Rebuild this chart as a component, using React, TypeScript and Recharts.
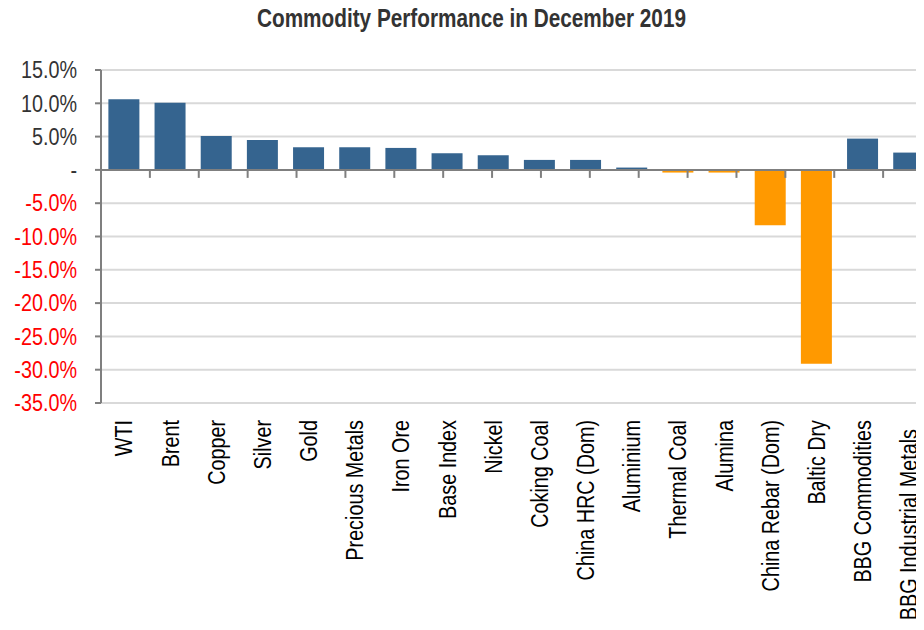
import React from "react";
import {
  BarChart,
  Bar,
  XAxis,
  YAxis,
  CartesianGrid,
  ReferenceLine,
  Cell,
} from "recharts";

const categories = [
  "WTI",
  "Brent",
  "Copper",
  "Silver",
  "Gold",
  "Precious Metals",
  "Iron Ore",
  "Base Index",
  "Nickel",
  "Coking Coal",
  "China HRC (Dom)",
  "Aluminium",
  "Thermal Coal",
  "Alumina",
  "China Rebar (Dom)",
  "Baltic Dry",
  "BBG Commodities",
  "BBG Industrial Metals",
];

// monthly change, %
const changes = [
  10.6, 10.1, 5.1, 4.5, 3.4, 3.4, 3.3, 2.5, 2.2, 1.5, 1.5, 0.35, -0.4, -0.4,
  -8.3, -29.1, 4.7, 2.6,
];

const yTicks = [15, 10, 5, 0, -5, -10, -15, -20, -25, -30, -35];

const UP = "#35648f";
const DOWN = "#ff9900";
const AXIS = "#7f7f7f";
const FONT = "'Liberation Sans', Arial, sans-serif";
// the original uses a narrow face, so squeeze regular glyphs along the text
const NARROW = 0.86;

const data = categories.map((name, i) => ({ name, value: changes[i] }));
// category boundaries, for the small marks under the zero line
const boundaries = categories.slice(1).map((_, i) => i + 1);

function YTick({ x, y, payload }: any) {
  const v = payload.value as number;
  return (
    <g transform={`translate(${x},${y}) scale(${NARROW},1)`}>
      <text
        dy="0.36em"
        textAnchor="end"
        fontSize={23}
        fontFamily={FONT}
        fill={v < 0 ? "#ff0000" : "#333333"}
      >
        {v === 0 ? "-" : `${v.toFixed(1)}%`}
      </text>
    </g>
  );
}

function XTick({ x, y, payload, index }: any) {
  // last label sits a little lower in the original so it fits the frame
  const shift = index === categories.length - 1 ? 9 : 0;
  return (
    <g transform={`translate(${x},${y + shift}) rotate(-90) scale(${NARROW},1)`}>
      <text
        textAnchor="end"
        dy="0.36em"
        fontSize={23}
        fontFamily={FONT}
        fill="#000000"
      >
        {payload.value}
      </text>
    </g>
  );
}

export default function App() {
  return (
    <div
      style={{
        position: "relative",
        width: 924,
        height: 630,
        margin: -8,
        overflow: "hidden",
        background: "#ffffff",
        fontFamily: FONT,
      }}
    >
      <div
        style={{
          position: "absolute",
          top: 6,
          left: 0,
          width: 943,
          textAlign: "center",
          fontWeight: "bold",
          fontSize: 25,
          lineHeight: "25px",
          color: "#333333",
          transform: "scaleX(0.83)",
          transformOrigin: "center",
          whiteSpace: "nowrap",
        }}
      >
        Commodity Performance in December 2019
      </div>
      <BarChart
        width={940}
        height={630}
        data={data}
        margin={{ top: 70, right: 8, left: 0, bottom: 0 }}
        barCategoryGap="16%"
      >
        <CartesianGrid vertical={false} stroke="#d9d9d9" strokeWidth={2} />
        <XAxis
          dataKey="name"
          interval={0}
          height={227}
          axisLine={false}
          tickLine={false}
          tickSize={0}
          tickMargin={17}
          tick={<XTick />}
        />
        <XAxis
          xAxisId="bounds"
          type="number"
          domain={[0, categories.length]}
          allowDataOverflow
          hide
        />
        <YAxis
          width={101}
          domain={[-35, 15]}
          ticks={yTicks}
          interval={0}
          axisLine={{ stroke: AXIS, strokeWidth: 2 }}
          tickLine={{ stroke: AXIS, strokeWidth: 2 }}
          tickSize={6}
          tickMargin={18}
          tick={<YTick />}
        />
        <Bar dataKey="value" isAnimationActive={false}>
          {data.map((d) => (
            <Cell key={d.name} fill={d.value < 0 ? DOWN : UP} />
          ))}
        </Bar>
        <ReferenceLine y={0} stroke={AXIS} strokeWidth={2} />
        {boundaries.map((b) => (
          <ReferenceLine
            key={b}
            xAxisId="bounds"
            segment={[
              { x: b, y: 0 },
              { x: b, y: -1.2 },
            ]}
            stroke={AXIS}
            strokeWidth={2}
          />
        ))}
      </BarChart>
    </div>
  );
}
